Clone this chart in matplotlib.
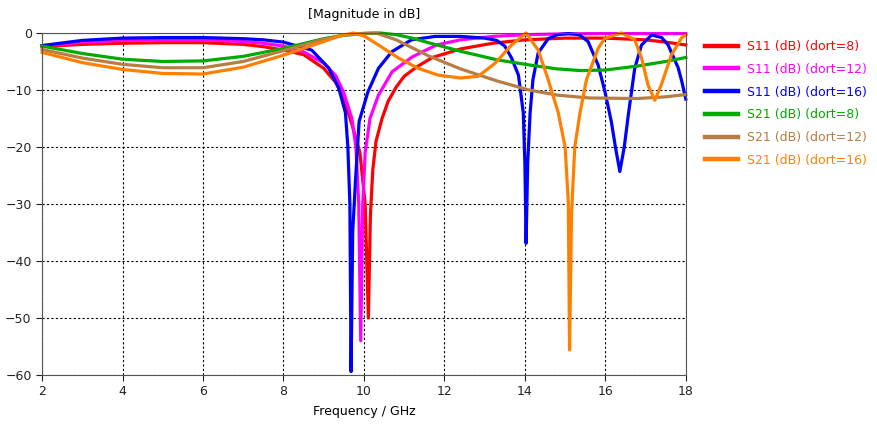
import matplotlib
matplotlib.use("Agg")
import matplotlib.pyplot as plt

# S-parameter magnitudes, freq in GHz, values in dB
s11_d8_f = [2, 3, 4, 5, 6, 7, 7.5, 8, 8.5, 9, 9.3, 9.5, 9.7, 9.9, 10.03, 10.11, 10.16, 10.22, 10.3,
            10.45, 10.6, 10.8, 11.0, 11.3, 11.7, 12.4, 13.2, 14, 15, 16, 17, 17.5, 18]
s11_d8_db = [-2.4, -2.0, -1.8, -1.7, -1.7, -2.0, -2.4, -3.0, -3.8, -6.2, -8.7, -11.5, -16, -21, -30, -50,
             -32, -24, -19, -15, -12, -9.5, -7.6, -6.0, -4.3, -2.8, -1.8, -1.2, -0.9, -0.9, -1.2, -1.6, -2.1]

s11_d12_f = [2, 3, 4, 5, 6, 7, 7.5, 8, 8.5, 9, 9.3, 9.5, 9.7, 9.8, 9.87, 9.92, 9.97, 10.03, 10.15,
             10.36, 10.7, 11.2, 11.8, 12.4, 13.2, 14, 15, 16, 17, 18]
s11_d12_db = [-2.3, -1.6, -1.3, -1.2, -1.2, -1.5, -1.8, -2.3, -3.3, -5.3, -7.5, -10.5, -15, -20, -30, -54,
              -30, -21, -15, -10.9, -6.8, -4.2, -2.1, -1.2, -0.6, -0.3, -0.15, -0.1, -0.1, -0.1]

s11_d16_f = [2, 3, 4, 5, 6, 7, 7.5, 8, 8.7, 9.12, 9.37, 9.54, 9.6, 9.65, 9.68, 9.72, 9.79, 9.88, 10.1,
             10.36, 10.69, 11.18, 11.77, 12.4, 13.0, 13.3, 13.5, 13.67, 13.84, 13.96, 14.0, 14.03,
             14.07, 14.13, 14.2, 14.33, 14.58, 14.8, 15.08, 15.35, 15.57, 15.82, 15.99, 16.15,
             16.25, 16.36, 16.47, 16.57, 16.73, 16.9, 17.15, 17.4, 17.56, 17.81, 17.9, 18]
s11_d16_db = [-2.2, -1.3, -0.9, -0.8, -0.8, -1.0, -1.2, -1.6, -3.0, -6.1, -9.6, -14, -20, -30, -59.4, -35,
              -25.8, -15.5, -10.3, -6.2, -3.3, -1.2, -0.6, -0.6, -0.9, -1.3, -2.3, -4.4, -7.4, -14,
              -22.8, -36.9, -22.8, -14, -8.2, -3.5, -1.0, -0.3, -0.1, -0.3, -1.5, -5.6, -10.3, -15.6,
              -20, -24.3, -20, -14.4, -6.2, -2.1, -0.35, -0.8, -2.1, -6.1, -8.5, -11.6]

s21_d8_f = [2, 3, 4, 5, 6, 7, 8, 9, 9.5, 10, 10.4, 10.8, 11.2, 11.6, 12.4, 13.3, 14.1, 14.8,
            15.4, 16.0, 16.8, 17.5, 18]
s21_d8_db = [-2.3, -3.6, -4.6, -5.0, -4.9, -4.1, -2.7, -1.0, -0.4, -0.1, 0.0, -0.3, -0.9, -1.7,
             -3.2, -4.7, -5.6, -6.3, -6.6, -6.5, -5.8, -5.0, -4.3]

s21_d12_f = [2, 3, 4, 5, 6, 7, 8, 9, 9.5, 10, 10.3, 10.8, 11.2, 11.6, 12.4, 13.3, 14.1, 14.8,
             15.6, 16.8, 17.5, 18]
s21_d12_db = [-2.9, -4.4, -5.5, -6.1, -6.1, -5.0, -3.1, -1.1, -0.4, -0.05, 0.0, -1.2, -2.6, -4.0,
              -6.3, -8.4, -10.0, -10.9, -11.4, -11.5, -11.2, -10.8]

s21_d16_f = [2, 3, 4, 5, 6, 7, 8, 8.5, 9, 9.4, 9.74, 10.0, 10.36, 10.86, 11.35, 11.85, 12.4, 12.84,
             13.26, 13.67, 14.03, 14.33, 14.58, 14.83, 15.0, 15.08, 15.11, 15.16, 15.24, 15.37,
             15.53, 15.82, 15.99, 16.4, 16.73, 16.9, 17.06, 17.23, 17.39, 17.64, 17.89, 18]
s21_d16_db = [-3.4, -5.2, -6.4, -7.1, -7.2, -6.0, -3.9, -2.7, -1.5, -0.5, 0.0, -0.5, -2.1, -4.4, -6.2,
              -7.4, -7.9, -7.6, -5.3, -2.1, 0.0, -3.0, -8.2, -14, -20, -29.8, -55.6, -31.6, -20, -14,
              -8.2, -2.7, -0.9, 0.0, -1.2, -4.4, -9.1, -11.8, -9.1, -3.9, -0.9, -0.3]

labels = ["S11 (dB) (dort=8)", "S11 (dB) (dort=12)", "S11 (dB) (dort=16)",
          "S21 (dB) (dort=8)", "S21 (dB) (dort=12)", "S21 (dB) (dort=16)"]
colors = ["#ff0000", "#ff00ff", "#0000ff", "#00aa00", "#b87d42", "#ff8000"]

series = [(s11_d8_f, s11_d8_db), (s11_d12_f, s11_d12_db), (s11_d16_f, s11_d16_db),
          (s21_d8_f, s21_d8_db), (s21_d12_f, s21_d12_db), (s21_d16_f, s21_d16_db)]

plt.rcParams['font.family'] = ['DejaVu Sans']
fig = plt.figure(figsize=(8.77, 4.34), dpi=100)
ax = fig.add_axes([0.048, 0.136, 0.734, 0.788])

for (f, db), lab, c in zip(series, labels, colors):
    ax.plot(f, db, color=c, lw=2.3, label=lab, solid_joinstyle='round', clip_on=False)

ax.set_xlim(2, 18)
ax.set_ylim(-60, 0)
ax.set_xticks(range(2, 19, 2))
ax.set_yticks(range(-60, 1, 10))
ax.grid(True, color='black', linestyle=(0, (2, 2)), lw=0.8)
ax.tick_params(direction='out', length=4, labelsize=9, colors='#222222')
for s in ax.spines.values():
    s.set_color('#555555')

ax.set_xlabel("Frequency / GHz", fontsize=9, labelpad=5)
ax.set_title("[Magnitude in dB]", fontsize=9, pad=11)

leg = fig.legend(loc='upper left', bbox_to_anchor=(0.797, 0.922), frameon=False, fontsize=9,
                 handlelength=2.6, handletextpad=0.75, labelspacing=0.78, borderpad=0,
                 labelcolor='linecolor')
for line in leg.get_lines():
    line.set_linewidth(3.2)

fig.savefig("out.png", dpi=100)
